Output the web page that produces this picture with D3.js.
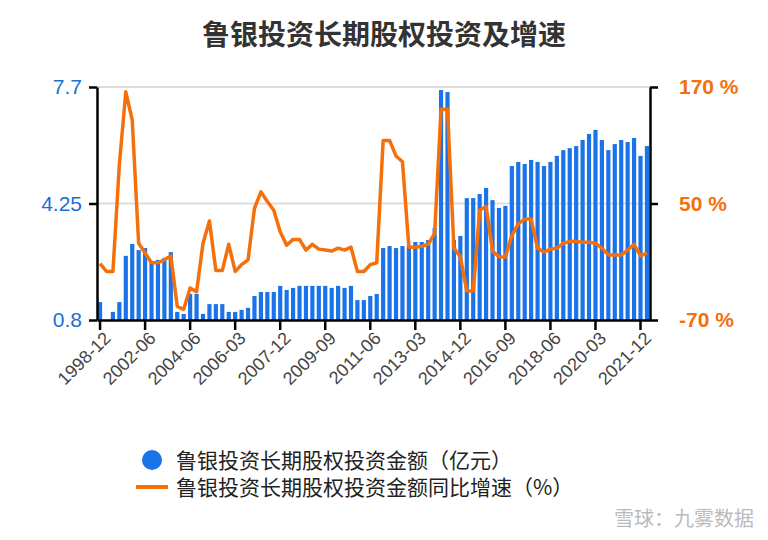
<!DOCTYPE html>
<html><head><meta charset="utf-8">
<script src="https://cdn.jsdelivr.net/npm/d3@7"></script>
<style>body{margin:0;background:#fff;font-family:"Noto Sans CJK SC","Noto Sans",sans-serif;}</style>
</head><body><div id="chart"></div>
<script>
// category labels (semiannual early, then quarterly)
var dates = ["1998-12","1999-06","1999-12","2000-06","2000-12","2001-06","2001-12",
  "2002-06","2002-12","2003-03","2003-06","2003-09","2003-12","2004-03"];
(function () {
  var y = 2004, m = 6;
  while (dates.length < 86) {
    dates.push(y + "-" + (m < 10 ? "0" + m : m));
    m += 3; if (m > 12) { m -= 12; y++; }
  }
})();

// 金额 (亿元)
var amount = [1.33,0.8,1.04,1.33,2.7,3.05,2.87,2.93,2.52,2.58,2.64,2.81,1.04,0.98,1.57,1.57,0.98,1.27,1.27,1.27,
  1.04,1.04,1.10,1.16,1.51,1.63,1.63,1.63,1.81,1.69,1.75,1.81,1.81,1.81,1.81,1.81,1.75,1.81,1.75,1.81,
  1.39,1.39,1.51,1.57,2.93,2.99,2.93,2.99,3.0,3.11,3.11,3.17,3.52,7.61,7.55,3.17,3.29,4.41,4.41,4.53,
  4.71,4.35,4.12,4.18,5.36,5.48,5.42,5.54,5.48,5.36,5.48,5.66,5.83,5.89,5.95,6.13,6.31,6.43,6.13,5.83,
  6.01,6.13,6.07,6.19,5.66,5.95];
// 同比增速 (%)
var growth = [-12,-20,-20,90,165,136,9,-1,-11,-11,-8,-4,-56,-59,-37,-41,9,32,-19,-19,
  8,-20,-13,-8,45,62,52,43,21,7,13,13,2,8,3,2,1,4,2,5,
  -20,-20,-13,-11,115,115,99,93,5,5,6,8,19,147,147,4,-5,-40,-40,43,
  47,1,-5,-5,17,29,34,34,4,0,3,4,9,11,11,10,10,9,4,-3,
  -3,-3,2,8,-4,-1];

var leftTicks = [0.8, 4.25, 7.7];
var rightTicks = [-70, 50, 170];

var W = 768, H = 540;
var margin = {top: 87, right: 118, bottom: 220, left: 97};
var width = W - margin.left - margin.right;
var height = H - margin.top - margin.bottom;

var svg = d3.select("#chart").append("svg").attr("width", W).attr("height", H);

svg.append("text").attr("x", 384).attr("y", 45).attr("text-anchor", "middle")
  .attr("font-size", 28).attr("font-weight", "bold").attr("fill", "#333")
  .text("鲁银投资长期股权投资及增速");

var g = svg.append("g").attr("transform", "translate(" + margin.left + "," + margin.top + ")");

var x = d3.scaleBand().domain(dates).range([0, width]).paddingInner(0.35).paddingOuter(0.15);
var yL = d3.scaleLinear().domain([0.8, 7.7]).range([height, 0]);
var yR = d3.scaleLinear().domain([-70, 170]).range([height, 0]);

g.selectAll(".grid").data(leftTicks.slice(1)).enter().append("line")
  .attr("x1", 0).attr("x2", width).attr("y1", yL).attr("y2", yL)
  .attr("stroke", "#ddd").attr("stroke-width", 2);

g.selectAll(".bar").data(amount).enter().append("rect")
  .attr("x", function (d, i) { return x(dates[i]); })
  .attr("width", x.bandwidth())
  .attr("y", function (d) { return yL(d); })
  .attr("height", function (d) { return height - yL(d); })
  .attr("fill", "#1a73e8");

var line = d3.line()
  .x(function (d, i) { return x(dates[i]) + x.bandwidth() / 2; })
  .y(function (d) { return yR(d); });
g.append("path").datum(growth).attr("d", line)
  .attr("fill", "none").attr("stroke", "#f5700a").attr("stroke-width", 3.5)
  .attr("stroke-linejoin", "round");

var ax = g.append("g").attr("transform", "translate(0," + height + ")")
  .call(d3.axisBottom(x).tickValues(dates.filter(function (d, i) { return i % 7 === 0; }))
    .tickSize(10).tickSizeOuter(0));
ax.selectAll("text").attr("font-size", 18).attr("fill", "#444")
  .attr("text-anchor", "end").attr("dx", "-0.3em").attr("dy", "0.5em")
  .attr("transform", "rotate(-45)");

var al = g.append("g").call(d3.axisLeft(yL).tickValues(leftTicks)
  .tickFormat(function (d) { return d; }).tickSize(8).tickSizeOuter(0));
al.selectAll("text").attr("font-size", 21).attr("fill", "#1a6fd6").attr("dx", "-4");

var ar = g.append("g").attr("transform", "translate(" + width + ",0)")
  .call(d3.axisRight(yR).tickValues(rightTicks)
    .tickFormat(function (d) { return d + " %"; }).tickSize(8).tickSizeOuter(0));
ar.selectAll("text").attr("font-size", 21).attr("font-weight", "bold").attr("fill", "#f5700a").attr("dx", "18");

[ax, al, ar].forEach(function (a) {
  a.selectAll("path,line").attr("stroke", "#000").attr("stroke-width", 2.5);
  a.selectAll("text").attr("font-family", "'Liberation Sans', Arial, sans-serif");
});

var lg = svg.append("g");
lg.append("circle").attr("cx", 152).attr("cy", 460).attr("r", 10).attr("fill", "#1a73e8");
lg.append("text").attr("x", 176).attr("y", 468).attr("font-size", 21).attr("fill", "#222")
  .text("鲁银投资长期股权投资金额（亿元）");
lg.append("line").attr("x1", 136).attr("x2", 168).attr("y1", 487).attr("y2", 487)
  .attr("stroke", "#f5700a").attr("stroke-width", 4);
lg.append("text").attr("x", 176).attr("y", 495).attr("font-size", 21).attr("fill", "#222")
  .text("鲁银投资长期股权投资金额同比增速（%）");

svg.append("text").attr("x", 754).attr("y", 526).attr("text-anchor", "end")
  .attr("font-size", 20).attr("fill", "#bbb").text("雪球：九雾数据");
</script></body></html>
